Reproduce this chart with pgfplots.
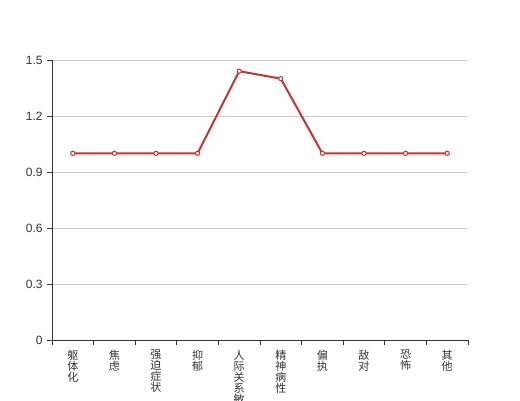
\documentclass[border=0pt]{standalone}
\usepackage{pgfplots}
\pgfplotsset{compat=1.18}
\usepackage{fontspec}
\setmainfont{Liberation Sans}
\newfontfamily\cjk{Noto Sans CJK SC}
\definecolor{ecred}{HTML}{C23531}
\definecolor{axc}{HTML}{333333}
\definecolor{gridc}{HTML}{CCCCCC}
\begin{document}
\begin{tikzpicture}
\path[use as bounding box, clip] (0,0) rectangle (390pt,300pt);
\begin{axis}[
  at={(39pt,45pt)}, anchor=south west,
  width=312pt, height=210pt, scale only axis,
  xmin=-0.5, xmax=9.5, ymin=0, ymax=1.5,
  axis lines*=left,
  axis line style={axc, line width=0.75pt},
  ytick={0,0.3,0.6,0.9,1.2,1.5},
  yticklabels={0,0.3,0.6,0.9,1.2,1.5},
  ymajorgrids, grid style={gridc, line width=0.75pt},
  xtick={0,...,9},
  xticklabels={{躯\\体\\化},{焦\\虑},{强\\迫\\症\\状},{抑\\郁},{人\\际\\关\\系\\敏\\感},{精\\神\\病\\性},{偏\\执},{敌\\对},{恐\\怖},{其\\他}},
  minor xtick={-0.5,0.5,...,9.5},
  major tick length=0pt,
  minor tick length=3.75pt,
  tick align=outside,
  tick style={axc, line width=0.75pt},
  extra y ticks={0,0.3,0.6,0.9,1.2,1.5},
  extra y tick labels={},
  extra y tick style={major tick length=3.75pt, grid=none},
  xticklabel style={font=\cjk\fontsize{8.3}{8.3}\selectfont, align=center, anchor=north, text=axc, yshift=-4pt},
  yticklabel style={font=\fontsize{9}{9}\selectfont, text=axc, xshift=-3.5pt},
  /pgf/number format/assume math mode=true,
  clip=false,
]
\addplot[ecred, line width=1.5pt, mark=*, mark size=1.6pt, mark options={fill=white, draw=ecred, line width=0.75pt}]
coordinates {(0,1) (1,1) (2,1) (3,1) (4,1.44) (5,1.40) (6,1) (7,1) (8,1) (9,1)};
\end{axis}
\end{tikzpicture}
\end{document}
